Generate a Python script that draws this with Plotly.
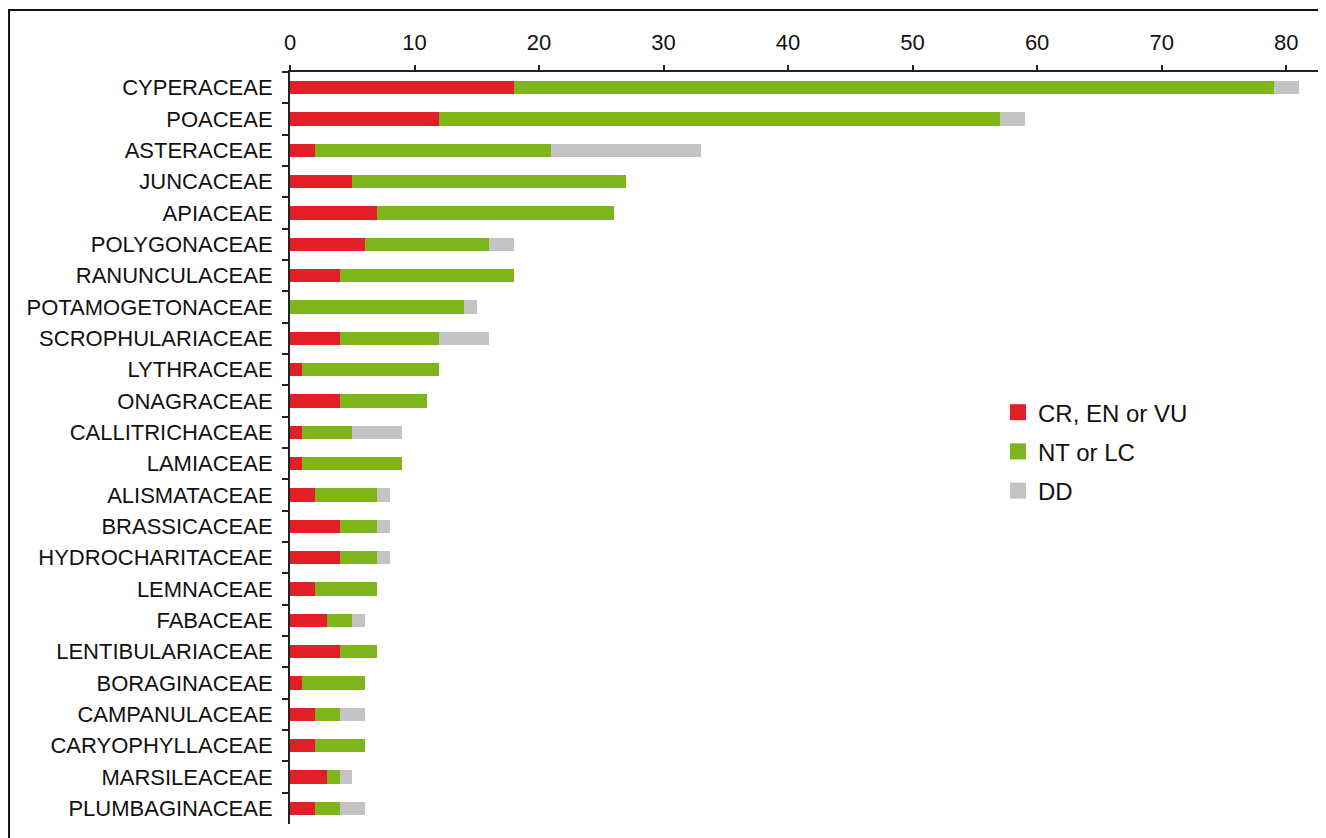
import plotly.graph_objects as go

families = ["CYPERACEAE", "POACEAE", "ASTERACEAE", "JUNCACEAE", "APIACEAE",
            "POLYGONACEAE", "RANUNCULACEAE", "POTAMOGETONACEAE", "SCROPHULARIACEAE",
            "LYTHRACEAE", "ONAGRACEAE", "CALLITRICHACEAE", "LAMIACEAE", "ALISMATACEAE",
            "BRASSICACEAE", "HYDROCHARITACEAE", "LEMNACEAE", "FABACEAE",
            "LENTIBULARIACEAE", "BORAGINACEAE", "CAMPANULACEAE", "CARYOPHYLLACEAE",
            "MARSILEACEAE", "PLUMBAGINACEAE"]
threatened = [18, 12, 2, 5, 7, 6, 4, 0, 4, 1, 4, 1, 1, 2, 4, 4, 2, 3, 4, 1, 2, 2, 3, 2]
nt_lc = [61, 45, 19, 22, 19, 10, 14, 14, 8, 11, 7, 4, 8, 5, 3, 3, 5, 2, 3, 5, 2, 4, 1, 2]
dd = [2, 2, 12, 0, 0, 2, 0, 1, 4, 0, 0, 4, 0, 1, 1, 1, 0, 1, 0, 0, 2, 0, 1, 2]
x_ticks = [0, 10, 20, 30, 40, 50, 60, 70, 80]

series = [("CR, EN or VU", threatened, "#E21F26"),
          ("NT or LC", nt_lc, "#7DB51A"),
          ("DD", dd, "#C3C3C3")]

fig = go.Figure()
for name, vals, color in series:
    fig.add_trace(go.Bar(
        y=families, x=vals, orientation="h", name=name,
        marker=dict(color=color, line=dict(width=0)),
        legendgroup=name, showlegend=False,
    ))
    # legend entry with a larger square swatch
    fig.add_trace(go.Scatter(
        x=[None], y=[None], mode="markers", name=name, legendgroup=name,
        marker=dict(symbol="square", size=16, color=color),
        showlegend=True, hoverinfo="skip",
    ))

# page body has an 8px default margin, so the figure is 8px smaller
fig.update_layout(
    barmode="stack", bargap=0.58,
    width=1318, height=830,
    margin=dict(l=282, r=0, t=64, b=14),
    plot_bgcolor="white", paper_bgcolor="white",
    font=dict(family="Liberation Sans, Arial, sans-serif", color="#111"),
    legend=dict(x=0.6834, xanchor="left", y=0.577, yanchor="top",
                font=dict(size=24), tracegroupgap=5,
                bgcolor="rgba(0,0,0,0)"),
    shapes=[dict(type="rect", xref="paper", yref="paper",
                 x0=-0.2712, x1=1.05, y0=-0.05, y1=1.0824,
                 line=dict(color="#111", width=2), fillcolor="rgba(0,0,0,0)")],
)
fig.update_xaxes(side="top", range=[0, 83.2], tickvals=x_ticks,
                 ticks="outside", ticklen=5, tickwidth=2, tickcolor="#222",
                 showline=True, linewidth=2, linecolor="#222",
                 showgrid=False, zeroline=False,
                 tickfont=dict(size=22), ticklabelstandoff=6)
fig.update_yaxes(range=[23.5, -0.5], categoryorder="array", categoryarray=families,
                 ticks="outside", tickson="boundaries", ticklen=6, tickwidth=2,
                 tickcolor="#222", showline=True, linewidth=2, linecolor="#222",
                 showgrid=False, zeroline=False,
                 tickfont=dict(size=22), ticklabelstandoff=11)

fig.write_html("out.html")
